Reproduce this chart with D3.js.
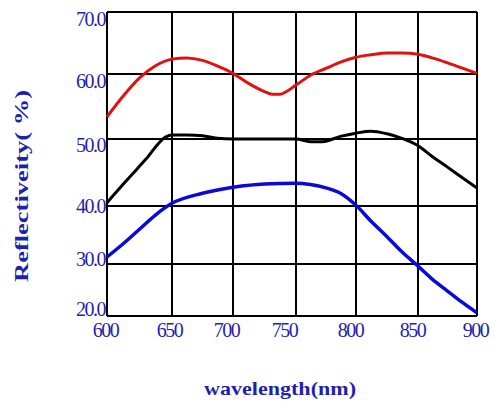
<!DOCTYPE html>
<html><head><meta charset="utf-8">
<script src="https://cdn.jsdelivr.net/npm/d3@7"></script>
<style>body{margin:0;background:#fff}svg{display:block}</style>
</head><body>
<script>
const xTicks = [600, 650, 700, 750, 800, 850, 900];
const yTicks = [20, 30, 40, 50, 60, 70];
const xLabel = "wavelength(nm)";
const yLabel = "Reflectiveity( %)";

const redW = [600, 612, 625, 637, 650, 662, 675, 687, 700, 712, 725, 731, 737, 750, 762, 775, 787, 800, 812, 825, 837, 850, 862, 875, 887, 900];
const redV = [53.4, 56.5, 59.4, 61.3, 62.4, 62.6, 62.2, 61.3, 60.1, 58.6, 57.3, 56.9, 56.9, 58.3, 59.8, 60.9, 61.9, 62.7, 63.1, 63.4, 63.4, 63.2, 62.6, 61.8, 61.0, 60.1];

const blackW = [600, 615, 630, 645, 650, 662, 675, 687, 700, 725, 750, 762, 772, 787, 800, 812, 825, 837, 850, 862, 875, 887, 900];
const blackV = [40.5, 43.8, 47.0, 50.3, 50.6, 50.6, 50.5, 50.1, 50.0, 50.0, 50.0, 49.6, 49.6, 50.4, 50.9, 51.2, 50.8, 50.1, 49.0, 47.4, 45.8, 44.3, 42.7];

const blueW = [600, 612, 625, 637, 650, 675, 700, 725, 750, 762, 775, 787, 800, 812, 825, 837, 850, 862, 875, 887, 900];
const blueV = [31.2, 33.4, 36.0, 38.4, 40.4, 41.9, 42.8, 43.3, 43.4, 43.2, 42.7, 41.9, 40.1, 37.4, 34.7, 32.1, 29.6, 27.1, 24.8, 22.7, 20.6];

const W = 495, H = 402;
const svg = d3.select("body").append("svg").attr("width", W).attr("height", H);

const x = d3.scaleLinear().domain(xTicks).range([107, 172, 233, 296, 356, 418, 477]);
const y = d3.scaleLinear().domain(yTicks).range([316, 264, 206, 139, 74, 12]);
// label placement scales (labels in the original sit slightly off the grid lines)
const xLab = d3.scaleLinear().domain(xTicks).range([105, 169, 226, 284, 350, 412, 475]);
const yLab = d3.scaleLinear().domain(yTicks).range([308, 258, 205, 144, 80, 18]);

const txtColor = "#1f1fb0";

// grid
const g = svg.append("g");
g.selectAll("line.v").data(xTicks).join("line")
  .attr("x1", d => x(d)).attr("x2", d => x(d))
  .attr("y1", y(70)).attr("y2", y(20))
  .attr("stroke", "#000").attr("stroke-width", 2);
g.selectAll("line.h").data(yTicks).join("line")
  .attr("x1", x(600)).attr("x2", x(900))
  .attr("y1", d => y(d)).attr("y2", d => y(d))
  .attr("stroke", "#000").attr("stroke-width", 2);

// tick labels via d3 axes on label scales
const xAxis = svg.append("g").attr("transform", `translate(0,${y(20)})`)
  .call(d3.axisBottom(xLab).tickValues(xTicks).tickSize(0).tickPadding(21).tickFormat(d3.format("d")));
xAxis.select(".domain").remove();
xAxis.selectAll("text").attr("fill", txtColor).attr("font-family", "Liberation Serif")
  .attr("font-size", 20).attr("letter-spacing", -1.5).attr("dy", "0");

const yAxis = svg.append("g").attr("transform", `translate(105,0)`)
  .call(d3.axisLeft(yLab).tickValues(yTicks).tickSize(0).tickPadding(0).tickFormat(d3.format(".1f")));
yAxis.select(".domain").remove();
yAxis.selectAll("text").attr("fill", txtColor).attr("font-family", "Liberation Serif")
  .attr("font-size", 20).attr("letter-spacing", -1.5).attr("dy", "0.35em");

// lines
const line = d3.line().x(d => x(d[0])).y(d => y(d[1])).curve(d3.curveMonotoneX);
const series = [
  {w: redW, v: redV, c: "#e31010", sw: 3},
  {w: blackW, v: blackV, c: "#000000", sw: 3},
  {w: blueW, v: blueV, c: "#0a0ad8", sw: 3.5}
];
series.forEach(s => {
  svg.append("path").datum(s.w.map((w, i) => [w, s.v[i]]))
    .attr("d", line).attr("fill", "none").attr("stroke", s.c)
    .attr("stroke-width", s.sw).attr("stroke-linejoin", "round");
});

// titles
svg.append("text").attr("x", 280).attr("y", 395).attr("text-anchor", "middle")
  .attr("font-family", "Liberation Serif").attr("font-weight", "bold").attr("font-size", 19)
  .attr("fill", txtColor).attr("textLength", 152).attr("lengthAdjust", "spacingAndGlyphs")
  .text(xLabel);
svg.append("text").attr("transform", "translate(28,186) rotate(-90)").attr("text-anchor", "middle")
  .attr("font-family", "Liberation Serif").attr("font-weight", "bold").attr("font-size", 18)
  .attr("fill", txtColor).attr("textLength", 192).attr("lengthAdjust", "spacingAndGlyphs")
  .text(yLabel);
</script>
</body></html>
